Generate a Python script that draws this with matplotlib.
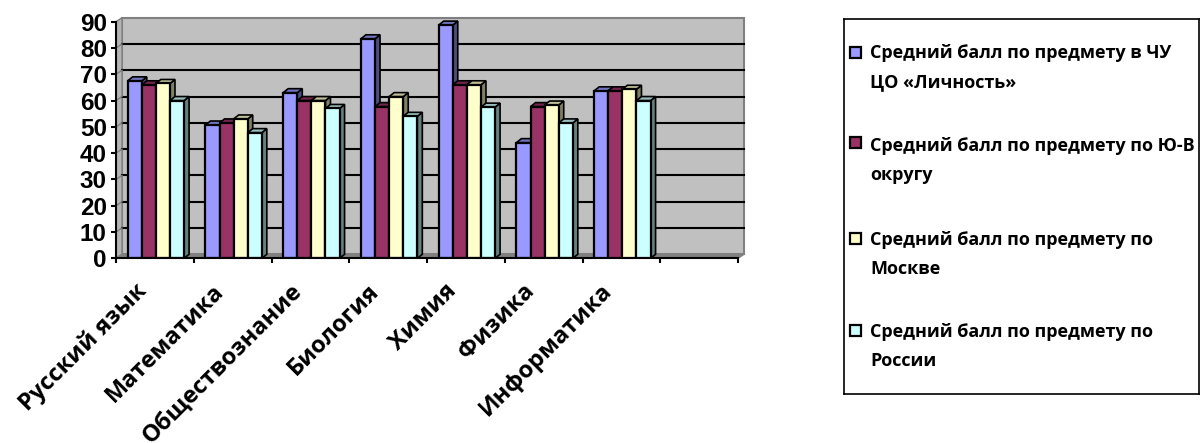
import numpy as np
import matplotlib
matplotlib.use('Agg')
import matplotlib.pyplot as plt
from matplotlib.patches import Polygon, Rectangle

plt.rcParams['font.family'] = ['Open Sans', 'DejaVu Sans']

subjects = ['Русский язык', 'Математика', 'Обществознание', 'Биология', 'Химия', 'Физика', 'Информатика']
school = [67.5, 50.7, 63, 83.5, 88.7, 44, 63.7]
district = [66, 51.5, 60, 57.7, 66, 57.7, 63.7]
moscow = [66.5, 53, 60, 61.5, 66, 58.3, 64.3]
russia = [60, 47.8, 57, 54, 57.5, 51.5, 60]
series_names = [['Средний балл по предмету в ЧУ', 'ЦО «Личность»'],
                ['Средний балл по предмету по Ю-В', 'округу'],
                ['Средний балл по предмету по', 'Москве'],
                ['Средний балл по предмету по', 'России']]
front_colors = ['#9999FF', '#993366', '#FFFFCC', '#CCFFFF']
side_colors = ['#4D4D80', '#4D1A33', '#808066', '#668080']
top_colors = ['#7373BF', '#73264D', '#BFBF99', '#99BFBF']

W, H = 1201, 443
fig = plt.figure(figsize=(W / 100, H / 100), dpi=100)
ax = fig.add_axes([116 / W, 1 - 258.3 / H, 622 / W, (258.3 - 21.7) / H])
ax.set_xlim(0, 8)
ax.set_ylim(0, 90)

# depth of the fake 3d, in data units (about 6px and 4px)
wx, wy = 6 / 77.75, 4 / 2.63
bx, by = 5 / 77.75, 4 / 2.63
bar_w = 14.1 / 77.75
shift = 1 / 77.75

# walls
ax.add_patch(Polygon([(wx, wy), (8 + wx, wy), (8 + wx, 90 + wy), (wx, 90 + wy)], fc='#C0C0C0', ec='#808080', lw=1.5, clip_on=False, zorder=1))
ax.add_patch(Polygon([(0, 0), (wx, wy), (wx, 90 + wy), (0, 90)], fc='#B4B4B4', ec='#808080', lw=1, clip_on=False, zorder=1))
ax.add_patch(Polygon([(0, 0), (8, 0), (8 + wx, wy), (wx, wy)], fc='#808080', ec='#808080', lw=1, clip_on=False, zorder=1))
for v in range(10, 90, 10):
    ax.plot([wx, 8 + wx], [v + wy, v + wy], color='black', lw=1.5, clip_on=False, zorder=2)
    ax.plot([0, wx], [v, v + wy], color='#808080', lw=1, clip_on=False, zorder=2)

all_series = [school, district, moscow, russia]
z = 3
for g in range(len(subjects)):
    for s, vals in enumerate(all_series):
        left = g + 0.5 + (s - 2) * bar_w + shift
        v = vals[g]
        ax.add_patch(Polygon([(left + bar_w, 0), (left + bar_w + bx, by), (left + bar_w + bx, v + by), (left + bar_w, v)],
                             fc=side_colors[s], ec='black', lw=1.2, zorder=z, clip_on=False))
        ax.add_patch(Polygon([(left, v), (left + bar_w, v), (left + bar_w + bx, v + by), (left + bx, v + by)],
                             fc=top_colors[s], ec='black', lw=1.2, zorder=z, clip_on=False))
        ax.bar(left, v, bar_w, align='edge', color=front_colors[s], edgecolor='black', lw=1.6, zorder=z + 1)
        z += 2

for sp in ['top', 'right']:
    ax.spines[sp].set_visible(False)
for sp in ['left', 'bottom']:
    ax.spines[sp].set_linewidth(1.5)
    ax.spines[sp].set_zorder(50)
ax.set_yticks(np.arange(0, 100, 10))
ax.set_yticklabels([str(v) for v in range(0, 100, 10)], family='Liberation Sans', fontweight='bold', fontsize=17.5)
ax.set_xticks(range(9))
ax.set_xticklabels([])
ax.tick_params(axis='both', length=3.6, width=1.5, pad=3)

for i, name in enumerate(subjects):
    ax.annotate(name, (i + 0.5, 0), xytext=(-15, -15), textcoords='offset points',
                rotation=45, ha='right', va='top', rotation_mode='anchor',
                fontsize=17, fontweight='bold', annotation_clip=False)

# legend box
box = fig.add_axes([843.5 / W, 1 - 394 / H, 355.5 / W, 375 / H])
box.set_xlim(843.5, 1199)
box.set_ylim(394, 19)
box.set_xticks([])
box.set_yticks([])
for sp in box.spines.values():
    sp.set_linewidth(1.2)
swatch_y = [52, 142, 238, 330]
text_y = [53, 146, 240, 332]
for i, lines in enumerate(series_names):
    box.add_patch(Rectangle((850, swatch_y[i] - 5.5), 11, 11, fc=front_colors[i], ec='black', lw=1.6))
    for k, line in enumerate(lines):
        box.text(870, text_y[i] + 29 * k, line, fontsize=13, fontweight='bold', va='center')

fig.savefig('out.png', dpi=100)
